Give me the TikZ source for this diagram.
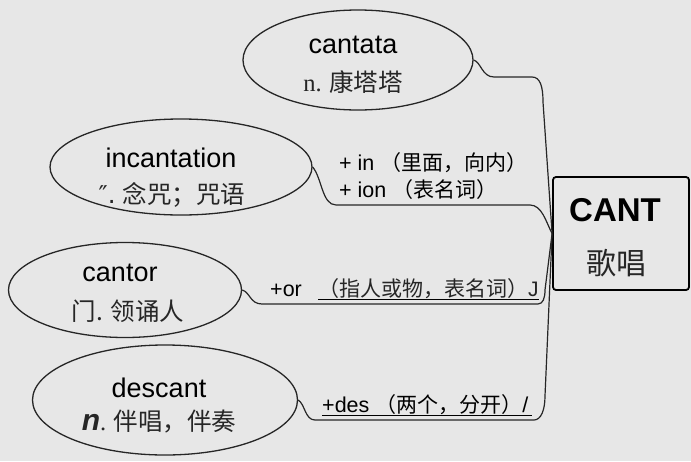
\documentclass[tikz,border=0pt]{standalone}
\usepackage{fontspec}
\setmainfont{Liberation Sans}
\newfontfamily\cjk{Noto Sans CJK SC}
\newfontfamily\serif{Liberation Serif}
\newfontfamily\dejavu{DejaVu Sans}
\usetikzlibrary{shapes.geometric, positioning}
\definecolor{paper}{RGB}{231,231,231}
\definecolor{ink}{RGB}{38,38,38}

\begin{document}
\begin{tikzpicture}[x=1pt, y=-1pt,
  bubble/.style={ellipse, draw=ink, line width=1.3pt, inner sep=0pt},
  word/.style={font=\fontsize{27}{28}\selectfont, text=black, inner sep=0pt},
  gloss/.style={font=\fontsize{24.5}{26}\selectfont\cjk, text=ink, inner sep=0pt},
  affix/.style={font=\fontsize{21.5}{23}\selectfont, text=black, inner sep=0pt, anchor=west},
  meaning/.style={font=\fontsize{21}{22}\selectfont\cjk, text=ink, inner sep=0pt, anchor=west},
  rootbox/.style={rectangle, draw=black, line width=1.8pt, rounded corners=3pt},
  link/.style={draw=ink, line width=1.2pt},
  rule/.style={draw=black, line width=1pt}
]
\fill[paper] (0,0) rectangle (691,461);
\useasboundingbox (0,0) rectangle (691,461);

% root
\node[rootbox, minimum width=136pt, minimum height=113pt] (root) at (621,233.5) {};
\node[font=\fontsize{33}{34}\selectfont\bfseries, inner sep=0pt] (rootWord) at (615,210) {CANT};
\node[font=\fontsize{30}{32}\selectfont\cjk, text=ink, inner sep=0pt] (rootGloss) at (616,263) {歌唱};

% derived words
\node[bubble, minimum width=230pt, minimum height=100pt] (cantata) at (358,60) {};
\node[word] (cantataW) at (353,45) {cantata};
\node[gloss] (cantataG) at (353,82) {{\serif n.} 康塔塔};

\node[bubble, minimum width=262pt, minimum height=96pt] (incant) at (181,167) {};
\node[word] (incantW) at (171,158) {incantation};
\node[gloss] (incantG) at (172,195) {{\dejavu ″.} 念咒；咒语};

\node[bubble, minimum width=233pt, minimum height=95pt] (cantor) at (125,290) {};
\node[word] (cantorW) at (120,273) {cantor};
\node[gloss] (cantorG) at (128,311) {门. 领诵人};

\node[bubble, minimum width=265pt, minimum height=110pt] (descant) at (165,400) {};
\node[word] (descantW) at (159,388) {descant};
\node[gloss] (descantG) at (159,422) {{\fontspec{Liberation Sans}\fontsize{30}{30}\selectfont\bfseries\itshape n}{\serif .} 伴唱，伴奏};

% affix notes
\node[affix] (inNote) at (339,163) {+ in {\cjk\fontsize{21}{22}\selectfont （里面，向内）}};
\node[affix] (ionNote) at (339,190) {+ ion {\cjk\fontsize{21}{22}\selectfont （表名词）}};
\node[affix] (orNote) at (270,290) {+or};
\node[meaning] (orMeaning) at (318,289) {（指人或物，表名词）{\fontspec{Liberation Sans}J}};
\node[affix] (desNote) at (322,405) {+des {\cjk\fontsize{21}{22}\selectfont （两个，分开）}{\fontspec{Liberation Sans}/}};

\draw[rule] (orMeaning.south west) -- (orMeaning.south east);
\draw[rule] (desNote.south west) -- ([xshift=3pt]desNote.south east);

% links
\draw[link] (cantata.east) .. controls (481,62) and (482,77) .. (494,77)
  -- (532,77) .. controls (540,77) and (543,86) .. (543,102) -- (root.west);
\draw[link] (incant.east) .. controls (322,178) and (322,205) .. (336,205)
  -- (530,205) .. controls (542,205) and (546,222) .. (root.west);
\draw[link] (cantor.east) .. controls (250,292) and (250,304) .. (262,304)
  -- (538,304) .. controls (543,304) and (545,298) .. (545,290) -- (root.west);
\draw[link] (descant.east) .. controls (305,404) and (305,420) .. (315,420)
  -- (534,420) .. controls (541,420) and (545,410) .. (545,396) -- (root.west);
\end{tikzpicture}
\end{document}
